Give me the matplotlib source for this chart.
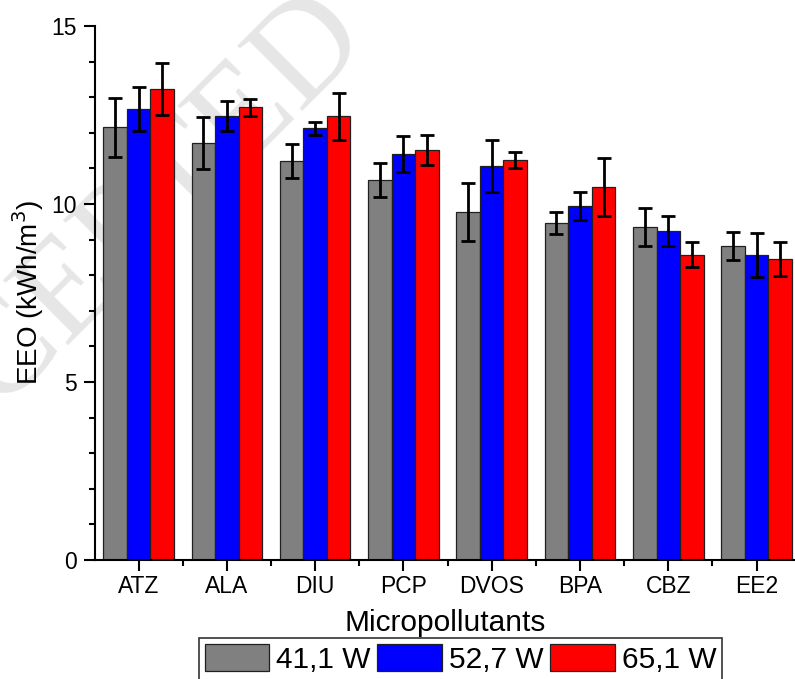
import numpy as np
import matplotlib
matplotlib.use("Agg")
import matplotlib.pyplot as plt
from matplotlib.ticker import MultipleLocator

plt.rcParams['font.family'] = ['Liberation Sans', 'DejaVu Sans']

# EEO per micropollutant at three lamp powers (mean and std)
pollutants = ["ATZ", "ALA", "DIU", "PCP", "DVOS", "BPA", "CBZ", "EE2"]
powers = ["41,1 W", "52,7 W", "65,1 W"]
colors = ["#808080", "#0000ff", "#ff0000"]

eeo_41 = [12.16, 11.71, 11.20, 10.67, 9.78, 9.47, 9.35, 8.82]
eeo_52 = [12.67, 12.47, 12.13, 11.40, 11.07, 9.94, 9.24, 8.57]
eeo_65 = [13.23, 12.72, 12.47, 11.52, 11.24, 10.48, 8.57, 8.46]

err_41 = [0.83, 0.73, 0.48, 0.48, 0.81, 0.30, 0.53, 0.38]
err_52 = [0.63, 0.42, 0.18, 0.50, 0.73, 0.39, 0.42, 0.62]
err_65 = [0.73, 0.24, 0.66, 0.42, 0.22, 0.81, 0.35, 0.48]

means = [eeo_41, eeo_52, eeo_65]
errs = [err_41, err_52, err_65]

fig = plt.figure(figsize=(7.95, 6.79), dpi=100)

# faint diagonal stamp behind the axes
fig.text(0.437, 0.974, "ACCEPTED", fontsize=100, family="Liberation Serif",
         color="#e6e6e6", rotation=45, ha="right", va="center",
         rotation_mode="anchor", zorder=-1)

ax = fig.add_axes([0.1195, 0.1753, 0.8805, 0.7864])
ax.patch.set_alpha(0)

x = np.arange(len(pollutants))
w = 0.8 / 3
for i in range(3):
    ax.bar(x + (i - 1) * w, means[i], w, color=colors[i], edgecolor="#202020",
           linewidth=0.9, label=powers[i], zorder=2)
    ax.errorbar(x + (i - 1) * w, means[i], yerr=errs[i], fmt="none",
                ecolor="black", elinewidth=2, capsize=5, capthick=2, zorder=3)

ax.set_xlim(-0.493, 7.435)
ax.set_ylim(0, 15)
ax.set_xticks(x)
ax.set_xticklabels(pollutants)
ax.xaxis.set_minor_locator(MultipleLocator(1, offset=0.5))
ax.yaxis.set_major_locator(MultipleLocator(5))
ax.yaxis.set_minor_locator(MultipleLocator(1))

for s in ["top", "right"]:
    ax.spines[s].set_visible(False)
for s in ["left", "bottom"]:
    ax.spines[s].set_linewidth(1.5)

ax.tick_params(which="major", length=8, width=1.5, labelsize=16.5, pad=5)
ax.tick_params(which="minor", length=4.5, width=1.5)
ax.tick_params(axis="x", which="major", pad=3)

ax.set_ylabel("EEO (kWh/m$^3$)", fontsize=20, labelpad=4)
ax.set_xlabel("Micropollutants", fontsize=21.5, labelpad=8)

leg = fig.legend(loc="upper center", bbox_to_anchor=(460.5 / 795, 1 - 638 / 679),
                 ncol=3, fontsize=21.5, frameon=True, fancybox=False,
                 handlelength=2.16, handleheight=1.0, handletextpad=0.23,
                 columnspacing=0.23, borderpad=0.2, borderaxespad=0)
leg.get_frame().set_edgecolor("black")
leg.get_frame().set_linewidth(1.2)

fig.savefig("out.png", dpi=100)
